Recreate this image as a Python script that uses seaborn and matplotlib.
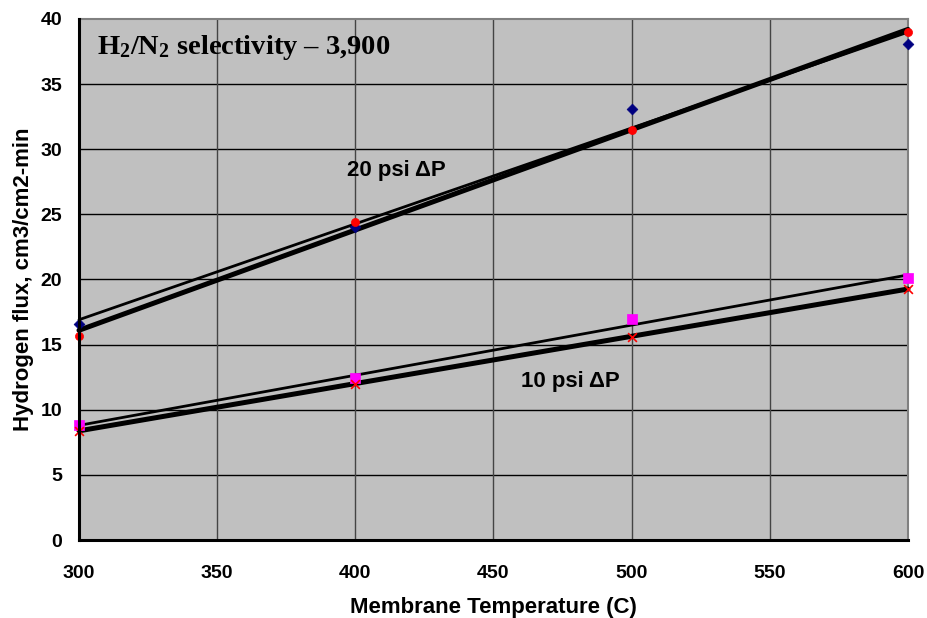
import numpy as np
import pandas as pd
import matplotlib
matplotlib.use("Agg")
import matplotlib.pyplot as plt
import seaborn as sns

# Membrane temperatures (C)
temperature = [300, 400, 500, 600]

# Hydrogen flux at 20 psi differential pressure
flux_20_a = [16.6, 24.0, 33.1, 38.1]   # run A (diamonds)
flux_20_b = [15.7, 24.4, 31.5, 39.0]   # run B (circles)

# Hydrogen flux at 10 psi differential pressure
flux_10_a = [8.8, 12.4, 17.0, 20.1]    # run A (squares)
flux_10_b = [8.4, 12.0, 15.6, 19.3]    # run B (crosses)

x_ticks = [300, 350, 400, 450, 500, 550, 600]
y_ticks = [0, 5, 10, 15, 20, 25, 30, 35, 40]

sns.set_theme(style="white")
plt.rcParams["font.family"] = ["Liberation Sans", "DejaVu Sans"]
plt.rcParams["text.color"] = "black"
plt.rcParams["axes.labelcolor"] = "black"
plt.rcParams["xtick.color"] = "black"
plt.rcParams["ytick.color"] = "black"
plt.rcParams["mathtext.fontset"] = "custom"
plt.rcParams["mathtext.rm"] = "Liberation Serif:bold"
plt.rcParams["mathtext.it"] = "Liberation Serif:bold"
plt.rcParams["mathtext.bf"] = "Liberation Serif:bold"
plt.rcParams["mathtext.default"] = "rm"

fig = plt.figure(figsize=(9.27, 6.18), dpi=100)
ax = fig.add_axes([0.0852, 0.1262, 0.8943, 0.8431])
ax.set_facecolor("#C0C0C0")

# Linear trendlines for each series
series = [
    ("20a", flux_20_a, 2.0, "D", "#000080", 30, None),
    ("20b", flux_20_b, 3.6, "o", "#FF0000", 34, None),
    ("10a", flux_10_a, 2.0, "s", "#FF00FF", 45, None),
    ("10b", flux_10_b, 3.6, "x", "#FF0000", 40, 1.2),
]

x_arr = np.array(temperature, dtype=float)
for name, vals, lw, *_ in series:
    coef = np.polyfit(x_arr, np.array(vals), 1)
    xs = np.array([temperature[0], temperature[-1]], dtype=float)
    fit = pd.DataFrame({"T": xs, "flux": np.polyval(coef, xs)})
    sns.lineplot(data=fit, x="T", y="flux", ax=ax, color="black",
                 linewidth=lw, zorder=3, clip_on=False)

for name, vals, lw, marker, color, size, mlw in series:
    df = pd.DataFrame({"T": temperature, "flux": vals})
    kw = dict(linewidth=mlw) if mlw else dict(edgecolor=color, linewidth=0.5)
    sns.scatterplot(data=df, x="T", y="flux", ax=ax, marker=marker,
                    color=color, s=size, zorder=4, clip_on=False, **kw)

ax.set_xlim(300, 600)
ax.set_ylim(0, 40)
ax.set_xticks(x_ticks)
ax.set_yticks(y_ticks)

ax.grid(False)
for y in y_ticks[1:-1]:
    ax.axhline(y, color="black", linewidth=1.0, zorder=1)
for x in x_ticks[1:-1]:
    ax.axvline(x, color="#444444", linewidth=1.0, zorder=1)

for side in ["top", "right"]:
    ax.spines[side].set_color("#808080")
    ax.spines[side].set_linewidth(1.5)
for side in ["left", "bottom"]:
    ax.spines[side].set_color("black")
    ax.spines[side].set_linewidth(2.2)
    ax.spines[side].set_zorder(5)

ax.tick_params(axis="both", which="major", direction="out", length=6,
               width=1.5, color="black", labelsize=14, labelcolor="black")
ax.tick_params(axis="x", pad=12)
ax.tick_params(axis="y", pad=6)
for lab in ax.get_xticklabels() + ax.get_yticklabels():
    lab.set_fontweight("bold")

ax.set_xlabel("Membrane Temperature (C)", fontsize=16, fontweight="bold",
              labelpad=11)
ax.set_ylabel("Hydrogen flux, cm3/cm2-min", fontsize=16, fontweight="bold",
              labelpad=5)

ax.text(0.022, 0.945, r"H$_2$/N$_2$ selectivity – 3,900",
        transform=ax.transAxes, fontsize=20.5, fontweight="bold",
        family=["Liberation Serif"], ha="left", va="center", zorder=6)
ax.text(415, 28.4, "20 psi ΔP", fontsize=16, fontweight="bold",
        ha="center", va="center", zorder=6)
ax.text(478, 12.2, "10 psi ΔP", fontsize=16, fontweight="bold",
        ha="center", va="center", zorder=6)

fig.savefig("out.png", dpi=100)
